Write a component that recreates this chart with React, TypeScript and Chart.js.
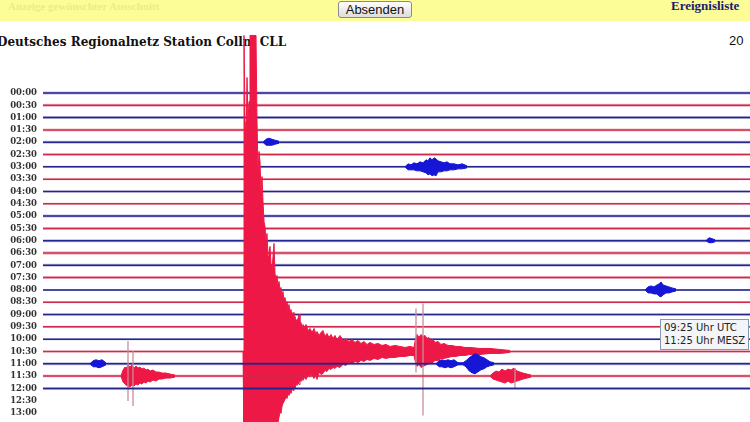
import { useEffect, useRef } from 'react';
import { Chart, registerables } from 'chart.js';

Chart.register(...registerables);

// Row labels (one row = 30 minutes)
const timeLabels = [
  '00:00', '00:30', '01:00', '01:30', '02:00', '02:30', '03:00', '03:30', '04:00',
  '04:30', '05:00', '05:30', '06:00', '06:30', '07:00', '07:30', '08:00', '08:30',
  '09:00', '09:30', '10:00', '10:30', '11:00', '11:30', '12:00', '12:30', '13:00',
];
// rows that carry a recorded trace (00:00 ... 12:00)
const traceRowCount = 25;
// background noise level of each trace row (amplitude counts)
const rowNoise = [
  1.6, 1.6, 1.5, 1.5, 1.5, 1.3, 1.0, 1.0, 1.0, 1.0, 1.5, 1.5, 1.5,
  1.8, 1.5, 1.5, 1.0, 1.0, 1.1, 1.2, 1.0, 1.0, 1.5, 1.5, 1.5,
];

// Main earthquake on the 10:30 row: minutes after row start, upper / lower peak amplitude (counts)
const quakeMinutes = [
  8.0, 8.04, 8.08, 8.12, 8.16, 8.2, 8.24, 8.28, 8.4, 8.52,
  8.56, 8.6, 8.64, 8.68, 8.72, 8.76, 8.8, 8.84, 8.88, 8.92,
  8.96, 9.0, 9.04, 9.08, 9.12, 9.16, 9.2, 9.24, 9.28, 9.32,
  9.36, 9.4, 9.44, 9.48, 9.52, 9.56, 9.6, 9.64, 9.68, 9.72,
  9.76, 9.8, 9.84, 9.88, 9.92, 9.96, 10.0, 10.04, 10.08, 10.12,
  10.16, 10.2, 10.24, 10.28, 10.32, 10.36, 10.4, 10.44, 10.52, 10.6,
  10.68, 10.76, 10.84, 10.92, 10.96, 11.04, 11.12, 11.2, 11.28, 11.36,
  11.44, 11.52, 11.6, 11.68, 11.76, 11.88, 12.0, 12.12, 12.24, 12.36,
  12.48, 12.6, 12.72, 12.84, 12.96, 13.08, 13.24, 13.4, 13.56, 13.72,
  13.88, 14.08, 14.28, 14.48, 14.68, 14.84, 14.88, 14.96, 15.04, 15.12,
  15.2, 15.28, 15.36, 15.44, 15.52, 15.6, 15.68, 15.8, 15.92, 16.04,
  16.2, 16.36, 16.52, 16.68, 16.88, 17.08, 17.48, 17.88, 18.28, 18.68,
];
const quakeUp = [
  0, 316, 230, 200, 274, 230, 250, 316, 316, 316,
  231, 180, 200, 190, 160, 175, 150, 130, 125, 110,
  118, 95, 100, 105, 88, 82, 95, 108, 78, 72,
  76, 66, 70, 62, 64, 56, 60, 52, 54, 48,
  50, 44, 47, 40, 42, 36, 39, 33, 35, 30,
  32, 33, 37, 27, 29, 23, 27, 24, 27, 21,
  23, 19, 23, 17, 20, 16, 19, 21, 15, 18,
  14, 17, 13, 16, 12, 16, 11, 13, 10, 12,
  9, 11, 8, 10, 7, 9, 7, 8, 6, 7,
  5, 6, 5, 4, 5, 4, 10, 17, 14, 17,
  15, 16, 13, 14, 11, 12, 9, 10, 7, 8,
  6, 6, 5, 5, 4, 4, 3, 3, 2, 1,
];
const quakeDown = [
  0, 90, 90, 90, 90, 90, 90, 90, 90, 90,
  90, 90, 90, 90, 90, 90, 90, 90, 90, 90,
  90, 90, 90, 85, 80, 72, 78, 75, 72, 70,
  73, 71, 66, 60, 62, 55, 52, 50, 48, 46,
  47, 43, 44, 41, 42, 38, 39, 36, 37, 33,
  34, 31, 33, 29, 30, 27, 29, 26, 28, 24,
  25, 23, 27, 24, 28, 21, 23, 22, 19, 20,
  17, 18, 16, 17, 15, 16, 13, 14, 11, 12,
  10, 11, 9, 10, 8, 9, 7, 8, 6, 7,
  6, 6, 5, 5, 4, 4, 9, 15, 13, 16,
  15, 14, 13, 12, 11, 11, 9, 9, 7, 7,
  6, 5, 5, 4, 4, 3, 3, 2, 2, 1,
];

// 11:30 row, two bursts
const burst1130aMinutes = [3.12, 3.2, 3.28, 3.32, 3.4, 3.48, 3.56, 3.64, 3.72, 3.8, 3.88, 3.96, 4.04, 4.12, 4.2, 4.28, 4.4, 4.52, 4.64, 4.76, 4.92, 5.08, 5.28];
const burst1130aUp = [0, 6, 9, 7, 11, 9, 11, 8, 10, 8, 9, 7, 8, 6, 7, 5, 6, 4, 4, 3, 3, 2, 1];
const burst1130aDown = [0, 6, 8, 9, 10, 11, 9, 10, 8, 9, 7, 8, 6, 7, 5, 6, 4, 5, 3, 3, 2, 2, 1];
const burst1130bMinutes = [17.88, 18.0, 18.12, 18.24, 18.36, 18.48, 18.6, 18.72, 18.84, 18.96, 19.08, 19.2, 19.36, 19.52];
const burst1130bUp = [0, 3, 5, 4, 7, 5, 7, 6, 8, 5, 4, 3, 2, 1];
const burst1130bDown = [0, 3, 4, 5, 6, 7, 5, 7, 6, 5, 4, 3, 2, 1];

// 11:00 row
const burst1100aMinutes = [1.88, 2.0, 2.12, 2.24, 2.36, 2.52];
const burst1100aUp = [0, 3, 4, 3, 4, 1];
const burst1100aDown = [0, 3, 3, 4, 3, 1];
const burst1100bMinutes = [15.72, 15.84, 15.96, 16.08, 16.2, 16.32, 16.44, 16.6, 16.8, 16.92, 17.04, 17.16, 17.28, 17.4, 17.52, 17.64, 17.76, 17.88, 18.04];
const burst1100bUp = [0, 3, 4, 3, 4, 3, 4, 1, 1, 3, 6, 8, 10, 9, 7, 6, 4, 2, 1];
const burst1100bDown = [0, 3, 3, 4, 3, 4, 3, 1, 1, 3, 7, 9, 10, 8, 6, 5, 3, 2, 1];

// 03:00 row
const burst0300Minutes = [14.48, 14.6, 14.72, 14.84, 14.96, 15.08, 15.2, 15.32, 15.4, 15.48, 15.56, 15.64, 15.72, 15.8, 15.92, 16.04, 16.16, 16.28, 16.44, 16.6, 16.76, 16.96];
const burst0300Up = [0, 3, 2, 4, 3, 5, 4, 7, 6, 9, 7, 9, 8, 6, 5, 4, 5, 3, 3, 2, 3, 1];
const burst0300Down = [0, 3, 3, 3, 4, 4, 5, 6, 8, 7, 9, 8, 9, 5, 5, 4, 4, 3, 3, 2, 2, 1];

// 08:00 row
const burst0800Minutes = [24.08, 24.2, 24.32, 24.44, 24.56, 24.64, 24.72, 24.8, 24.92, 25.04, 25.16, 25.32];
const burst0800Up = [0, 3, 4, 3, 5, 6, 8, 5, 4, 3, 2, 1];
const burst0800Down = [0, 3, 3, 4, 4, 6, 7, 5, 3, 3, 2, 1];

// 02:00 row
const burst0200Minutes = [8.8, 8.92, 9.04, 9.16, 9.28, 9.44];
const burst0200Up = [0, 3, 4, 3, 2, 1];
const burst0200Down = [0, 3, 3, 3, 2, 1];

// 06:00 row
const burst0600Minutes = [26.52, 26.64, 26.76, 26.88];
const burst0600Up = [0, 3, 2, 1];
const burst0600Down = [0, 2, 2, 1];

// single large swings (row, minute, up, down)
const spikeRows = [21, 21, 23, 23, 23];
const spikeMinutes = [14.92, 15.2, 3.4, 3.6, 18.88];
const spikeUp = [43, 48, 35, 25, 8];
const spikeDown = [21, 64, 25, 30, 12];

const BLUE_LINE = '#25258f';
const RED_LINE = '#cf2a4c';
const BLUE_HALO = 'rgba(37,37,143,0.3)';
const RED_HALO = 'rgba(207,42,76,0.3)';
const BLUE_EVENT = '#1616d6';
const RED_EVENT = '#ee1846';
const SPIKE = '#c98f9a';

const ROW_PX = 320 / 26;
const GAIN = 1 / ROW_PX; // rows per amplitude count

export default function App() {
  const canvasRef = useRef<HTMLCanvasElement | null>(null);

  useEffect(() => {
    document.body.style.margin = '0';
    const canvas = canvasRef.current;
    if (!canvas) return;

    const events = [
      { row: 21, minutes: quakeMinutes, up: quakeUp, down: quakeDown },
      { row: 23, minutes: burst1130aMinutes, up: burst1130aUp, down: burst1130aDown },
      { row: 23, minutes: burst1130bMinutes, up: burst1130bUp, down: burst1130bDown },
      { row: 22, minutes: burst1100aMinutes, up: burst1100aUp, down: burst1100aDown },
      { row: 22, minutes: burst1100bMinutes, up: burst1100bUp, down: burst1100bDown },
      { row: 6, minutes: burst0300Minutes, up: burst0300Up, down: burst0300Down },
      { row: 16, minutes: burst0800Minutes, up: burst0800Up, down: burst0800Down },
      { row: 4, minutes: burst0200Minutes, up: burst0200Up, down: burst0200Down },
      { row: 12, minutes: burst0600Minutes, up: burst0600Up, down: burst0600Down },
    ];

    const datasets: any[] = [];
    for (let r = 0; r < traceRowCount; r++) {
      const blue = r % 2 === 0;
      // noise band
      datasets.push({
        data: [{ x: 0, y: r }, { x: 30, y: r }],
        borderColor: blue ? BLUE_HALO : RED_HALO,
        borderWidth: rowNoise[r] * 2,
        pointRadius: 0,
        fill: false,
        order: (30 - r) * 10 + 1,
      });
      // trace core
      datasets.push({
        data: [{ x: 0, y: r }, { x: 30, y: r }],
        borderColor: blue ? BLUE_LINE : RED_LINE,
        borderWidth: 1.5,
        pointRadius: 0,
        fill: false,
        order: (30 - r) * 10,
      });
    }
    events.forEach((ev) => {
      const col = ev.row % 2 === 0 ? BLUE_EVENT : RED_EVENT;
      const order = (30 - ev.row) * 10 - 5;
      datasets.push({
        data: ev.minutes.map((m, i) => ({ x: m, y: ev.row - ev.up[i] * GAIN })),
        borderColor: col,
        backgroundColor: col,
        borderWidth: 1,
        pointRadius: 0,
        fill: '+1',
        order,
      });
      datasets.push({
        data: ev.minutes.map((m, i) => ({ x: m, y: ev.row + ev.down[i] * GAIN })),
        borderColor: col,
        borderWidth: 1,
        pointRadius: 0,
        fill: false,
        order,
      });
    });
    spikeRows.forEach((row, i) => {
      datasets.push({
        data: [
          { x: spikeMinutes[i], y: row - spikeUp[i] * GAIN },
          { x: spikeMinutes[i], y: row + spikeDown[i] * GAIN },
        ],
        borderColor: SPIKE,
        borderWidth: 1.3,
        pointRadius: 0,
        fill: false,
        order: (30 - row) * 10 - 7,
      });
    });

    const chart = new Chart(canvas, {
      type: 'line',
      data: { datasets },
      options: {
        animation: false,
        responsive: false,
        events: [],
        layout: { padding: 0 },
        plugins: { legend: { display: false }, tooltip: { enabled: false }, title: { display: false } },
        scales: {
          x: { type: 'linear', min: 0, max: 707 / 25, display: false },
          y: {
            type: 'linear',
            reverse: true,
            min: -71 / ROW_PX,
            max: 329 / ROW_PX,
            afterBuildTicks: (s: any) => {
              s.ticks = timeLabels.map((_, i) => ({ value: i }));
            },
            afterFit: (s: any) => {
              s.width = 43;
              s.paddingTop = 0;
              s.paddingBottom = 0;
            },
            grid: { display: false, drawTicks: false },
            border: { display: false },
            ticks: {
              autoSkip: false,
              padding: 6,
              color: '#333',
              font: { family: 'DejaVu Serif', size: 8.5, weight: 'bold' },
              callback: (v: any) => timeLabels[Math.round(Number(v))] ?? '',
            },
          },
        },
      } as any,
    });
    return () => chart.destroy();
  }, []);

  return (
    <div style={{ position: 'relative', width: 750, height: 422, overflow: 'hidden', background: '#fff' }}>
      <div style={{ position: 'absolute', left: 0, top: 0, width: 750, height: 21, background: '#fdfd98' }} />
      <div style={{ position: 'absolute', left: 8, top: 0, fontFamily: 'Liberation Serif', fontWeight: 'bold', fontSize: 11, lineHeight: '12px', color: '#eeea88', whiteSpace: 'nowrap' }}>
        Anzeige gewünschter Ausschnitt
      </div>
      <button style={{ position: 'absolute', left: 338, top: 1, width: 74, height: 17, padding: 0, fontFamily: 'Liberation Sans', fontSize: 13, lineHeight: '15px', color: '#111', border: '1px solid #8a8a8a', borderRadius: 3, background: 'linear-gradient(#fefefe, #dddddd)' }}>
        Absenden
      </button>
      <div style={{ position: 'absolute', left: 671, top: -1, fontFamily: 'Liberation Serif', fontWeight: 'bold', fontSize: 13, lineHeight: '14px', color: '#1b1b6b', whiteSpace: 'nowrap' }}>
        Ereignisliste
      </div>
      <div style={{ position: 'absolute', left: -3, top: 35, fontFamily: 'DejaVu Serif', fontWeight: 'bold', fontSize: 12, lineHeight: '14px', color: '#111', whiteSpace: 'nowrap' }}>
        Deutsches Regionalnetz Station Collm CLL
      </div>
      <div style={{ position: 'absolute', left: 729, top: 34, fontFamily: 'Liberation Sans', fontSize: 13, lineHeight: '14px', color: '#111', whiteSpace: 'nowrap' }}>
        20
      </div>
      <canvas ref={canvasRef} width={750} height={400} style={{ position: 'absolute', left: 0, top: 22, width: 750, height: 400 }} />
      <div style={{ position: 'absolute', left: 660, top: 319, width: 84, height: 28, border: '1px solid #8796b4', background: '#f3f5f9', fontFamily: 'DejaVu Sans', fontSize: 10, lineHeight: '13px', color: '#222', padding: '1px 0 0 3px', boxSizing: 'content-box', whiteSpace: 'nowrap' }}>
        09:25 Uhr UTC<br />11:25 Uhr MESZ
      </div>
    </div>
  );
}
